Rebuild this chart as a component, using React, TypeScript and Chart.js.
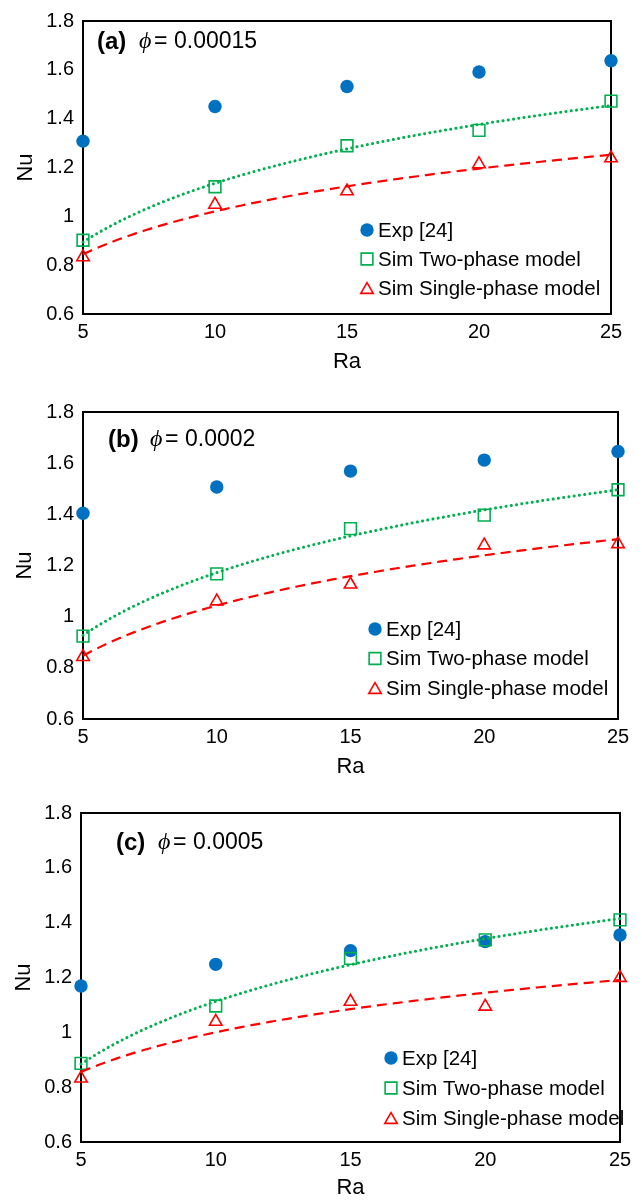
import React, { useEffect, useRef } from "react";
import { Chart, registerables } from "chart.js";

Chart.register(...registerables);

// ---------- data ----------
const raValues = [5, 10, 15, 20, 25];
const xTickLabels = ["5", "10", "15", "20", "25"];
const yTickValues = [0.6, 0.8, 1, 1.2, 1.4, 1.6, 1.8];
const yTickLabels = ["0.6", "0.8", "1", "1.2", "1.4", "1.6", "1.8"];
const seriesNames = ["Exp [24]", "Sim Two-phase model", "Sim Single-phase model"];
const panelLetters = ["(a)", "(b)", "(c)"];
const phiLabels = ["0.00015", "0.0002", "0.0005"];

const expA = [1.308, 1.45, 1.532, 1.591, 1.637];
const twoA = [0.902, 1.121, 1.289, 1.352, 1.472];
const singleA = [0.833, 1.048, 1.103, 1.214, 1.238];

const expB = [1.404, 1.507, 1.569, 1.612, 1.646];
const twoB = [0.924, 1.167, 1.344, 1.397, 1.496];
const singleB = [0.843, 1.06, 1.126, 1.279, 1.284];

const expC = [1.169, 1.248, 1.298, 1.331, 1.355];
const twoC = [0.887, 1.096, 1.27, 1.337, 1.41];
const singleC = [0.832, 1.039, 1.112, 1.094, 1.199];

const expSeries = [expA, expB, expC];
const twoSeries = [twoA, twoB, twoC];
const singleSeries = [singleA, singleB, singleC];

// ---------- styles / layout ----------
const BLUE = "#0070C0";
const GREEN = "#00B050";
const RED = "#FF0000";
const FONT = "'Liberation Sans', Arial, Helvetica, sans-serif";

const panels = [
  { top: 0, height: 380, left: 83, right: 611, areaTop: 15, areaBottom: 314, xAxisH: 62, raPad: 1, nuPad: 13,
    annotX: 97, annotY: 42, legX: 367, legY: 230, legStep: 29 },
  { top: 380, height: 401, left: 83, right: 618, areaTop: 412, areaBottom: 719, xAxisH: 62, raPad: 1, nuPad: 12,
    annotX: 108, annotY: 440, legX: 375, legY: 629, legStep: 29.5 },
  { top: 781, height: 420, left: 81, right: 620, areaTop: 813, areaBottom: 1142, xAxisH: 58, raPad: -1, nuPad: 11,
    annotX: 116, annotY: 843, legX: 391, legY: 1058, legStep: 30 },
];

// logarithmic least-squares trendline (as in the original spreadsheet)
function logFit(xs: number[], ys: number[]) {
  const lx = xs.map(Math.log);
  const n = xs.length;
  const mx = lx.reduce((a, b) => a + b, 0) / n;
  const my = ys.reduce((a, b) => a + b, 0) / n;
  let sxy = 0;
  let sxx = 0;
  for (let i = 0; i < n; i++) {
    sxy += (lx[i] - mx) * (ys[i] - my);
    sxx += (lx[i] - mx) * (lx[i] - mx);
  }
  const b = sxy / sxx;
  const a = my - b * mx;
  return (x: number) => a + b * Math.log(x);
}
const TREND_STEPS = 60;
function trendPoints(xs: number[], ys: number[]) {
  const f = logFit(xs, ys);
  const x0 = xs[0];
  const x1 = xs[xs.length - 1];
  const pts: { x: number; y: number }[] = [];
  for (let i = 0; i <= TREND_STEPS; i++) {
    const x = x0 + ((x1 - x0) * i) / TREND_STEPS;
    pts.push({ x, y: f(x) });
  }
  return pts;
}

function drawMarker(ctx: CanvasRenderingContext2D, style: string, x: number, y: number, r: number, fill: string, stroke: string, lw: number) {
  ctx.save();
  ctx.beginPath();
  if (style === "circle") {
    ctx.arc(x, y, r, 0, Math.PI * 2);
    ctx.fillStyle = fill;
    ctx.fill();
  } else if (style === "rect") {
    const s = Math.SQRT1_2 * r;
    ctx.rect(x - s, y - s, 2 * s, 2 * s);
    ctx.strokeStyle = stroke;
    ctx.lineWidth = lw;
    ctx.stroke();
  } else {
    const h = r * 1.5;
    const w = r * Math.sqrt(3);
    const cy = y + 0.25 * r;
    ctx.moveTo(x, cy - r);
    ctx.lineTo(x + w / 2, cy - r + h);
    ctx.lineTo(x - w / 2, cy - r + h);
    ctx.closePath();
    ctx.strokeStyle = stroke;
    ctx.lineWidth = lw;
    ctx.stroke();
  }
  ctx.restore();
}

function Panel({ idx }: { idx: number }) {
  const ref = useRef<HTMLCanvasElement | null>(null);
  const p = panels[idx];

  useEffect(() => {
    if (!ref.current) return;
    const toXY = (ys: number[]) => raValues.map((x, i) => ({ x, y: ys[i] }));

    const decorPlugin = {
      id: "decor" + idx,
      beforeDatasetsDraw(chart: any) {
        const { ctx, chartArea } = chart;
        ctx.save();
        ctx.strokeStyle = "#000";
        ctx.lineWidth = 2;
        ctx.strokeRect(chartArea.left, chartArea.top, chartArea.right - chartArea.left, chartArea.bottom - chartArea.top);
        ctx.restore();
      },
      afterDatasetsDraw(chart: any) {
        const { ctx } = chart;
        const off = p.top;
        // annotation
        ctx.save();
        ctx.fillStyle = "#000";
        ctx.textBaseline = "middle";
        ctx.textAlign = "left";
        const ay = p.annotY - off;
        ctx.font = `bold 24px ${FONT}`;
        ctx.fillText(panelLetters[idx], p.annotX, ay);
        ctx.font = `italic 24px 'Liberation Serif', 'DejaVu Serif', serif`;
        ctx.fillText("\u03D5", p.annotX + 42, ay);
        ctx.font = `23px ${FONT}`;
        ctx.fillText("=", p.annotX + 57, ay);
        ctx.fillText(phiLabels[idx], p.annotX + 77, ay);

        // legend
        const ds = chart.data.datasets.slice(0, 3);
        ctx.font = `20.5px ${FONT}`;
        ds.forEach((d: any, i: number) => {
          const y = p.legY - off + i * p.legStep;
          drawMarker(ctx, d.pointStyle, p.legX, y, d.pointRadius, d.pointBackgroundColor, d.pointBorderColor, d.pointBorderWidth);
          ctx.fillStyle = "#000";
          ctx.fillText(d.label, p.legX + 11, y + 1);
        });
        ctx.restore();
      },
    };

    const chart = new Chart(ref.current, {
      type: "scatter",
      data: {
        datasets: [
          {
            label: seriesNames[0],
            data: toXY(expSeries[idx]),
            pointStyle: "circle",
            pointRadius: 6.7,
            pointBackgroundColor: BLUE,
            pointBorderColor: BLUE,
            pointBorderWidth: 0,
            showLine: false,
            clip: false,
            order: 5,
          },
          {
            label: seriesNames[1],
            data: toXY(twoSeries[idx]),
            pointStyle: "rect",
            pointRadius: 8.3,
            pointBackgroundColor: "rgba(0,0,0,0)",
            pointBorderColor: GREEN,
            pointBorderWidth: 1.6,
            showLine: false,
            clip: false,
            order: 4,
          },
          {
            label: seriesNames[2],
            data: toXY(singleSeries[idx]),
            pointStyle: "triangle",
            pointRadius: 7.2,
            pointBackgroundColor: "rgba(0,0,0,0)",
            pointBorderColor: RED,
            pointBorderWidth: 1.6,
            showLine: false,
            clip: false,
            order: 3,
          },
          {
            label: "trend two",
            data: trendPoints(raValues, twoSeries[idx]),
            showLine: true,
            pointRadius: 0,
            borderColor: GREEN,
            borderWidth: 3,
            borderDash: [0.1, 5.2],
            borderCapStyle: "round",
            tension: 0,
            clip: false,
            order: 2,
          },
          {
            label: "trend single",
            data: trendPoints(raValues, singleSeries[idx]),
            showLine: true,
            pointRadius: 0,
            borderColor: RED,
            borderWidth: 2.2,
            borderDash: [10, 6],
            tension: 0,
            clip: false,
            order: 1,
          },
        ] as any,
      },
      options: {
        responsive: false,
        animation: false,
        devicePixelRatio: 1,
        events: [],
        layout: {
          padding: {
            left: 0,
            top: p.areaTop - p.top,
            right: 642 - p.right,
            bottom: p.height - (p.areaBottom - p.top) - p.xAxisH,
          },
        },
        plugins: {
          legend: { display: false },
          tooltip: { enabled: false },
          title: { display: false },
        },
        scales: {
          x: {
            type: "linear",
            min: raValues[0],
            max: raValues[raValues.length - 1],
            afterBuildTicks: (s: any) => {
              s.ticks = raValues.map((v) => ({ value: v }));
            },
            afterFit: (s: any) => {
              s.height = p.xAxisH;
            },
            grid: { display: false, drawTicks: false, tickLength: 0 },
            border: { display: false },
            ticks: {
              padding: 6,
              color: "#000",
              font: { family: FONT, size: 20 },
              callback: (_v: any, i: number) => xTickLabels[i],
              maxRotation: 0,
            },
            title: {
              display: true,
              text: "Ra",
              color: "#000",
              font: { family: FONT, size: 22 },
              padding: { top: 0, bottom: p.raPad },
            },
          },
          y: {
            type: "linear",
            min: yTickValues[0],
            max: yTickValues[yTickValues.length - 1],
            afterBuildTicks: (s: any) => {
              s.ticks = yTickValues.map((v) => ({ value: v }));
            },
            afterFit: (s: any) => {
              s.width = p.left;
            },
            grid: { display: false, drawTicks: false, tickLength: 0 },
            border: { display: false },
            ticks: {
              padding: 9,
              color: "#000",
              font: { family: FONT, size: 20 },
              callback: (_v: any, i: number) => yTickLabels[i],
            },
            title: {
              display: true,
              text: "Nu",
              color: "#000",
              font: { family: FONT, size: 22 },
              padding: { top: p.nuPad, bottom: 0 },
            },
          },
        },
      } as any,
      plugins: [decorPlugin],
    });
    return () => chart.destroy();
  }, [idx]);

  return (
    <div style={{ position: "absolute", left: 0, top: p.top, width: 642, height: p.height }}>
      <canvas ref={ref} width={642} height={p.height} style={{ display: "block" }} />
    </div>
  );
}

export default function App() {
  useEffect(() => {
    document.body.style.margin = "0";
    document.body.style.overflow = "hidden";
  }, []);
  return (
    <div style={{ position: "absolute", left: 0, top: 0, width: 642, height: 1201, overflow: "hidden", background: "#fff" }}>
      {panels.map((_, i) => (
        <Panel key={i} idx={i} />
      ))}
    </div>
  );
}
